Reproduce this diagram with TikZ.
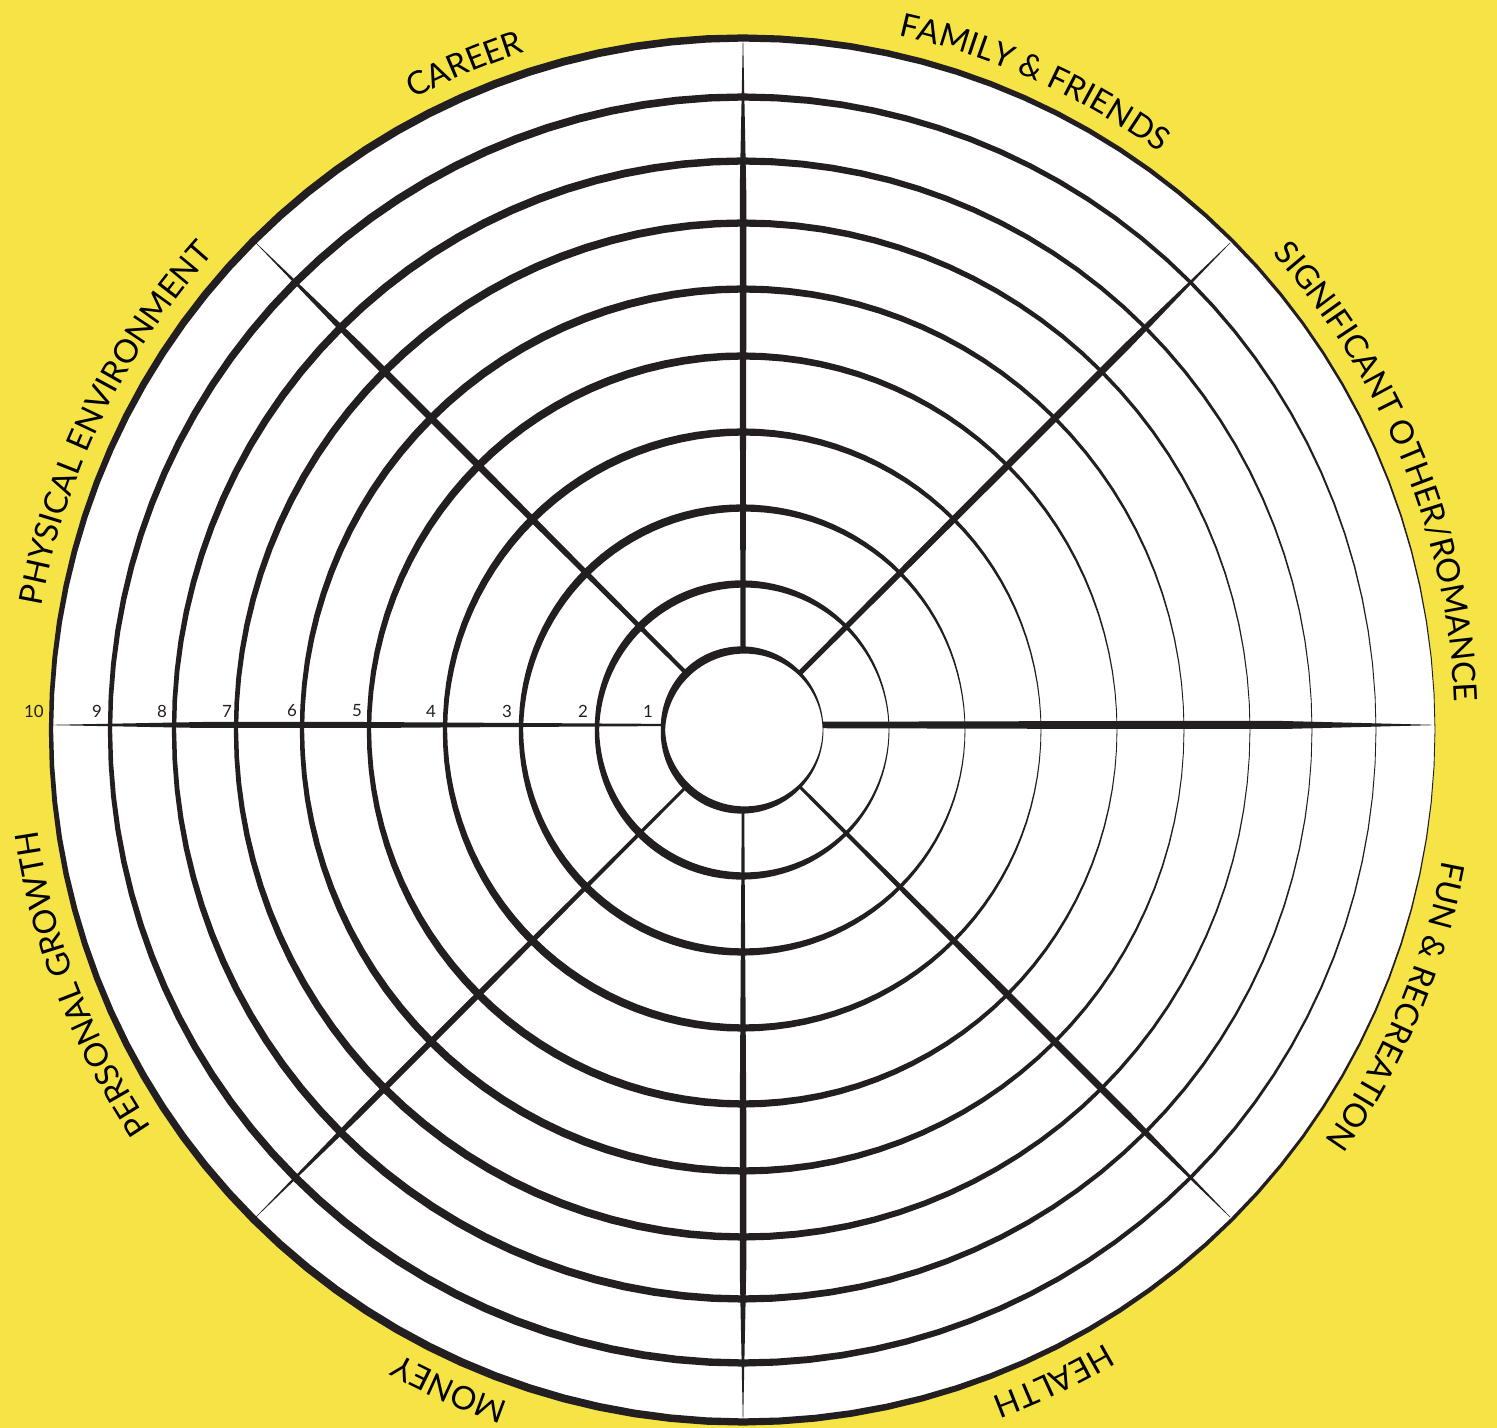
\documentclass[tikz,border=0pt]{standalone}
\usepackage{fontspec}
\setmainfont{Lato}
\usetikzlibrary{decorations.text}

\definecolor{vangnen}{RGB}{246,228,70}
\definecolor{dennet}{RGB}{35,31,32}
\newcommand{\chunhan}{\fontsize{9.2}{11}\selectfont}
\newcommand{\chuso}{\fontsize{4.8}{6}\selectfont}

\tikzset{
  net/.style={fill=dennet},
  so/.style={font=\chuso, text=dennet, inner sep=0pt},
  nhan/.style={decorate, decoration={text along path, text align=center, text={|\chunhan|#1}}}
}

\begin{document}
\begin{tikzpicture}[x=0.01cm, y=0.01cm,
    declare function={beday(\t)=0.4+(1.75+2.8*abs(sin(\t)))*abs(sin(\t/2));}]
    % Vẽ nền
    \fill[vangnen] (-743,-698) rectangle (754,730);
    \useasboundingbox (-743,-698) rectangle (754,730);
    % Vẽ hình tròn trắng
    \fill[white] (0,0) circle[radius=692];

    % Vẽ các tia
    \foreach \g/\a/\b/\d in {0/6.5/8/5, 45/5/7/0, 90/5/6.5/0, 135/4/7/0, 180/2.2/6/5, 225/2.8/6/0, 270/2.5/6.5/0, 315/3/7/0}
    \fill[net, shift={(0,\d)}, rotate=\g] (80,-\a/2) -- (380,-\b/2) -- (540,-\b/2) -- (689,-0.2)
        -- (689,0.2) -- (540,\b/2) -- (380,\b/2) -- (80,\a/2) -- cycle;

    % Vẽ các vòng tròn
    \foreach \r in {80,146,222,298,374,441,507,569,633,692}
    \fill[net] plot[domain=0:360, samples=121] (\x:{\r+beday(\x)})
        -- plot[domain=360:0, samples=121] (\x:{\r-beday(\x)}) -- cycle;

    % Đánh số
    \foreach \x/\n in {-95/1, -160/2, -236/3, -312/4, -386/5, -451/6, -516/7, -581/8, -646/9, -709/10}
    \node[so] (so\n) at (\x,19) {\n};

    % Ghi nhãn
    \path[nhan={CAREER}] (137.7:712) arc[start angle=137.7, end angle=87.7, radius=712];
    \path[nhan={FAMILY {\&} FRIENDS}] (90.8:712) arc[start angle=90.8, end angle=40.8, radius=712];
    \path[nhan={SIGNIFICANT OTHER/ROMANCE}] (47.1:712) arc[start angle=47.1, end angle=-2.9, radius=712];
    \path[nhan={FUN {\&} RECREATION}] (2.1:712) arc[start angle=2.1, end angle=-47.9, radius=712];
    \path[nhan={HEALTH}] (-39.5:712) arc[start angle=-39.5, end angle=-89.5, radius=712];
    \path[nhan={MONEY}] (-89:712) arc[start angle=-89, end angle=-139, radius=712];
    \path[nhan={PERSONAL GROWTH}] (-134:712) arc[start angle=-134, end angle=-184, radius=712];
    \path[nhan={PHYSICAL ENVIRONMENT}] (179:712) arc[start angle=179, end angle=129, radius=712];
\end{tikzpicture}
\end{document}
